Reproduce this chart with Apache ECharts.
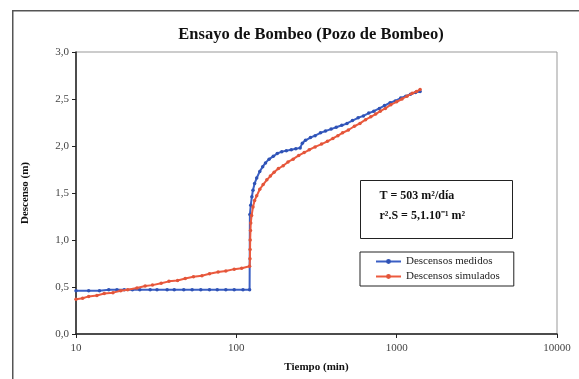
<!DOCTYPE html>
<html><head><meta charset="utf-8">
<script src="https://cdn.jsdelivr.net/npm/echarts@6/dist/echarts.min.js"></script>
<style>html,body{margin:0;padding:0;background:#fff}#c{width:579px;height:379px}</style>
</head><body><div id="c"></div>
<script>
// Descensos medidos (measured drawdown)
const measuredTimes = [10, 12, 14, 16, 18, 20, 22.5, 25, 29, 32, 37, 41, 47, 53, 60, 68, 76, 86, 97, 110, 121,
  121.5, 123, 125, 127, 130, 134, 140, 146, 152, 160, 170, 180, 192, 205, 220, 235, 250, 258, 270, 290, 310, 335,
  360, 390, 420, 455, 490, 530, 575, 620, 670, 720, 780, 840, 910, 980, 1060, 1140, 1220, 1310, 1400];
const measuredValues = [0.46, 0.46, 0.46, 0.47, 0.47, 0.47, 0.47, 0.47, 0.47, 0.47, 0.47, 0.47, 0.47, 0.47, 0.47, 0.47, 0.47, 0.47, 0.47, 0.47, 0.47,
  1.27, 1.37, 1.46, 1.53, 1.60, 1.66, 1.73, 1.78, 1.82, 1.86, 1.89, 1.92, 1.94, 1.95, 1.96, 1.97, 1.98, 2.03, 2.06, 2.09, 2.11, 2.14,
  2.16, 2.18, 2.20, 2.22, 2.24, 2.27, 2.30, 2.32, 2.35, 2.37, 2.40, 2.43, 2.46, 2.48, 2.51, 2.53, 2.55, 2.57, 2.58];
// Descensos simulados (simulated drawdown)
const simulatedTimes = [10, 11, 12, 13.5, 15, 17, 19, 21, 24, 27, 30, 34, 38, 43, 48, 54, 61, 68, 77, 86, 97, 108, 121,
  121.6, 121.8, 122, 122.5, 123, 124.5, 127, 130, 134, 140, 147, 155, 163, 172, 183, 196, 210, 226, 245, 265, 285, 310,
  340, 370, 400, 430, 460, 500, 545, 590, 640, 690, 740, 790, 850, 920, 1000, 1080, 1160, 1250, 1330, 1400];
const simulatedValues = [0.37, 0.38, 0.40, 0.41, 0.43, 0.44, 0.46, 0.47, 0.49, 0.51, 0.52, 0.54, 0.56, 0.57, 0.59, 0.61, 0.62, 0.64, 0.66, 0.67, 0.69, 0.70, 0.72,
  0.80, 0.90, 1.00, 1.10, 1.18, 1.26, 1.35, 1.42, 1.47, 1.54, 1.59, 1.64, 1.68, 1.72, 1.76, 1.79, 1.83, 1.86, 1.90, 1.93, 1.96, 1.99,
  2.02, 2.05, 2.08, 2.11, 2.14, 2.17, 2.21, 2.24, 2.28, 2.31, 2.34, 2.37, 2.40, 2.44, 2.47, 2.50, 2.53, 2.56, 2.58, 2.60];
const seriesNames = ['Descensos medidos', 'Descensos simulados'];
const xTickLabels = ['10', '100', '1000', '10000'];
const yTickValues = [0, 0.5, 1, 1.5, 2, 2.5, 3];
const titleText = 'Ensayo de Bombeo (Pozo de Bombeo)';
const xAxisName = 'Tiempo (min)';
const yAxisName = 'Descenso (m)';
const boxLines = ['T = 503 m²/día', 'r².S = 5,1.10⁻¹ m²'];

const SERIF = "'Liberation Serif', 'Times New Roman', serif";
const pairs = (ts, vs) => ts.map((t, i) => [t, vs[i]]);

const chart = echarts.init(document.getElementById('c'), null, {renderer: 'canvas'});
chart.setOption({
  backgroundColor: '#fff',
  animation: false,
  title: {
    text: titleText, left: 306, top: 21, textAlign: 'center',
    textStyle: {fontFamily: SERIF, fontSize: 16.5, fontWeight: 'bold', color: '#111'}
  },
  grid: {left: 76, right: 22, top: 52, bottom: 45, show: true, borderColor: '#999', borderWidth: 1, backgroundColor: 'transparent'},
  legend: {
    orient: 'vertical', left: 360, top: 252,
    data: seriesNames,
    itemWidth: 25, itemHeight: 6, itemGap: 4,
    padding: [4, 14, 4, 15],
    borderColor: '#222', borderWidth: 1, backgroundColor: '#fff',
    textStyle: {fontFamily: SERIF, fontSize: 11, color: '#222'}
  },
  xAxis: {
    type: 'log', logBase: 10, min: 10, max: 10000,
    name: xAxisName, nameLocation: 'middle', nameGap: 28,
    nameTextStyle: {fontFamily: SERIF, fontSize: 11, fontWeight: 'bold', color: '#111'},
    axisLine: {lineStyle: {color: '#222', width: 1.5}},
    axisTick: {show: true, length: 4, lineStyle: {color: '#222'}},
    minorTick: {show: false},
    splitLine: {show: false},
    axisLabel: {
      fontFamily: SERIF, fontSize: 11, color: '#444', margin: 9,
      formatter: v => { const i = Math.round(Math.log10(v)) - 1; return xTickLabels[i] || ''; }
    }
  },
  yAxis: {
    type: 'value', min: yTickValues[0], max: yTickValues[yTickValues.length - 1], interval: 0.5,
    name: yAxisName, nameLocation: 'middle', nameGap: 45, nameRotate: 90,
    nameTextStyle: {fontFamily: SERIF, fontSize: 11, fontWeight: 'bold', color: '#111'},
    axisLine: {show: true, lineStyle: {color: '#222', width: 1.5}},
    axisTick: {show: true, length: 4, lineStyle: {color: '#222'}},
    splitLine: {show: false},
    axisLabel: {fontFamily: SERIF, fontSize: 11, color: '#444', margin: 7,
      formatter: v => v.toFixed(1).replace('.', ',')}
  },
  series: [
    {
      name: seriesNames[0], type: 'line', data: pairs(measuredTimes, measuredValues),
      symbol: 'circle', symbolSize: 3.5, showSymbol: true,
      lineStyle: {color: '#3a5fc4', width: 2}, itemStyle: {color: '#2f52b5'}, z: 3
    },
    {
      name: seriesNames[1], type: 'line', data: pairs(simulatedTimes, simulatedValues),
      symbol: 'circle', symbolSize: 3.5, showSymbol: true,
      lineStyle: {color: '#ec5a3e', width: 2}, itemStyle: {color: '#e2553a'}, z: 4
    }
  ],
  graphic: [
    {type: 'rect', left: 12, top: 10, shape: {width: 700, height: 500}, silent: true, z: -10,
      style: {fill: 'transparent', stroke: '#555', lineWidth: 1.5}},
    {type: 'group', left: 360, top: 180, z: 100, children: [
      {type: 'rect', shape: {x: 0, y: 0, width: 152, height: 58}, style: {fill: '#fff', stroke: '#222', lineWidth: 1}},
      {type: 'text', x: 19, y: 9, style: {text: boxLines[0], font: 'bold 12px ' + SERIF, fill: '#111'}},
      {type: 'text', x: 19, y: 29, style: {text: boxLines[1], font: 'bold 12px ' + SERIF, fill: '#111'}}
    ]}
  ]
});
</script>
</body></html>
